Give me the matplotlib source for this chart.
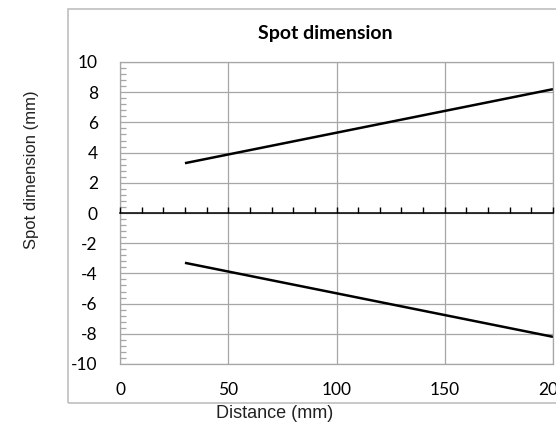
import matplotlib
matplotlib.use("Agg")
import matplotlib.pyplot as plt
from matplotlib.ticker import MultipleLocator
from matplotlib.patches import Rectangle

# data
distance = [30, 200]
upper = [3.3, 8.2]
lower = [-3.3, -8.2]
x_ticks = [0, 50, 100, 150, 200]
y_ticks = [-10, -8, -6, -4, -2, 0, 2, 4, 6, 8, 10]

W, H = 556, 424
fig = plt.figure(figsize=(W / 100, H / 100), dpi=100)
fig.patch.set_facecolor("white")

# outer chart frame
fig.add_artist(Rectangle((68 / W, 1 - 403 / H), 600 / W, (403 - 9) / H,
                         transform=fig.transFigure, fill=False,
                         edgecolor="#bfbfbf", linewidth=1.2))

pos = [120 / W, 1 - 364 / H, 433 / W, 302 / H]
ax = fig.add_axes(pos)
grid_c = "#a6a6a6"
ax.plot(distance, upper, color="black", lw=1.8, solid_capstyle="butt")
ax.plot(distance, lower, color="black", lw=1.8, solid_capstyle="butt")
ax.set_xlim(0, 200)
ax.set_ylim(-10, 10)
ax.set_xticks(x_ticks)
ax.set_yticks(y_ticks)
ax.yaxis.set_minor_locator(MultipleLocator(0.4))
ax.grid(True, which="major", color=grid_c, lw=0.9)
for s in ax.spines.values():
    s.set_color(grid_c)
    s.set_linewidth(0.9)
tickfont = dict(family=["Lato", "DejaVu Sans"], size=12.5)
ax.set_xticklabels([str(v) for v in x_ticks], **tickfont)
ax.set_yticklabels([str(v) for v in y_ticks], **tickfont)
ax.tick_params(axis="x", which="major", length=0, pad=13, colors="black")
ax.tick_params(axis="y", which="major", length=0, pad=16, colors="black")
ax.tick_params(axis="y", which="minor", direction="in", length=4,
               color=grid_c, width=0.9)

# horizontal axis through zero (overlay axes)
ax0 = fig.add_axes(pos, facecolor="none")
ax0.set_xlim(0, 200)
ax0.set_ylim(-10, 10)
for name in ("top", "left", "right"):
    ax0.spines[name].set_visible(False)
ax0.spines["bottom"].set_position(("data", 0))
ax0.spines["bottom"].set_color("black")
ax0.spines["bottom"].set_linewidth(1.1)
ax0.set_xticks(list(range(0, 201, 10)))
ax0.set_yticks([])
ax0.tick_params(axis="x", direction="in", length=4, width=1.0, color="black",
                labelbottom=False)

fig.text(325 / W, 1 - 33 / H, "Spot dimension", ha="center", va="center",
         fontsize=14, fontweight="bold", family=["Lato", "DejaVu Sans"])
fig.text(275 / W, 1 - 413 / H, "Distance (mm)", ha="center", va="center",
         fontsize=13, family=["Liberation Sans", "DejaVu Sans"], color="#222222")
fig.text(32 / W, 1 - 170 / H, "Spot dimension (mm)", ha="center", va="center",
         rotation=90, fontsize=12, family=["Liberation Sans", "DejaVu Sans"],
         color="#222222")

fig.savefig("out.png", dpi=100)
